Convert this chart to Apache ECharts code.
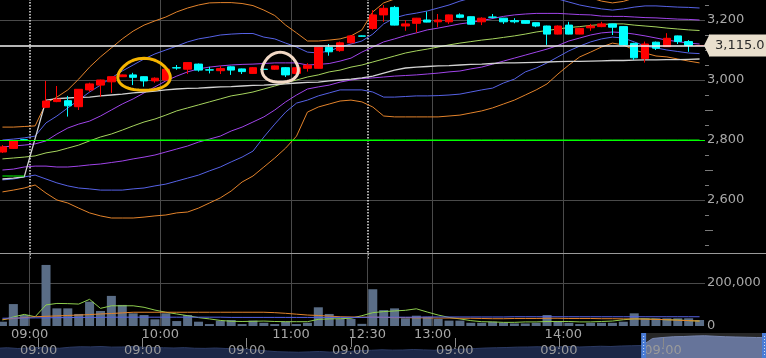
<!DOCTYPE html>
<html><head><meta charset="utf-8">
<script src="https://cdn.jsdelivr.net/npm/echarts@6/dist/echarts.min.js"></script>
<style>html,body{margin:0;padding:0;background:#000;}#c{width:766px;height:358px;}</style>
</head><body><div id="c"></div>
<script>
// ---------------- data ----------------
const times = ["prev 14:50","prev 14:55","prev 15:00",
 "09:00","09:05","09:10","09:15","09:20","09:25","09:30","09:35","09:40","09:45","09:50","09:55",
 "10:00","10:05","10:10","10:15","10:20","10:25","10:30","10:35","10:40","10:45","10:50","10:55",
 "11:00","11:05","11:10","11:15","11:20","11:25","11:30",
 "12:30","12:35","12:40","12:45","12:50","12:55",
 "13:00","13:05","13:10","13:15","13:20","13:25","13:30","13:35","13:40","13:45","13:50","13:55",
 "14:00","14:05","14:10","14:15","14:20","14:25","14:30","14:35","14:40","14:45","14:50","14:55","15:00"];
const hourMarks = ["10:00","11:00","13:00","14:00"];
const sessionStarts = ["09:00","12:30"];
const labelTimes = ["09:00","10:00","11:00","12:30","13:00","14:00"];

const opens  = [2760,2772,2800.5,null,2909,2928,2931,2911,2967,2983,2994,3011,3017,3011,2997,3000,3041,3036,3053,3034,3031,3044,3037,3022,3036,3036,3041,3022,3039,3039,3109,3098,3124,3147,3172,3217,3242,3180,3189,3200,3194,3194,3217,3211,3194,3210,3206,3198,3198,3191,3180,3153,3183,3153,3174,3178,3187,3178,3122,3072,3126,3111,3147,3128,3115];
const closes = [2777,2798,2800,null,2930,2936,2914,2969,2987,3000,3011,3017,3009,2997,3006,3036,3040,3058,3033,3033,3038,3033,3028,3041,3035,3047,3017,3041,3049,3109,3094,3124,3147,3146,3217,3239,3183,3187,3206,3193,3200,3217,3209,3186,3206,3209,3194,3194,3189,3180,3153,3180,3153,3172,3180,3187,3176,3117,3074,3120,3106,3139,3128,3115,3115];
const lows   = [2757,2770,2799,null,2907,2926,2878,2900,2961,2944,2957,3010,2983,2978,2991,2999,3034,3020,3028,3022,3020,3017,3020,3020,3033,3034,3010,3020,3028,3038,3081,3094,3122,3145,3167,3194,3182,3164,3158,3192,3176,3187,3206,3185,3183,3205,3187,3189,3188,3176,3117,3152,3152,3152,3164,3176,3150,3115,3067,3058,3100,3110,3120,3094,3115];
const highs  = [2783,2800,2802,null,2997,2980,2947,2970,2991,3001,3012,3018,3024,3012,3009,3047,3050,3059,3055,3044,3047,3046,3038,3043,3038,3048,3043,3043,3056,3110,3120,3128,3150,3148,3233,3250,3247,3200,3207,3228,3220,3218,3222,3212,3209,3220,3207,3206,3199,3192,3181,3182,3194,3174,3187,3194,3188,3180,3124,3128,3128,3156,3148,3133,3115];

const volumes = [20000,102000,51000,null,284000,82000,82000,56000,113000,70000,
 140000,98000,59000,51000,31000,59000,23000,51000,20000,9000,
 25000,28000,9000,25000,15000,9000,20000,9000,15000,87000,
 56000,33000,33000,10000,171000,74000,82000,36000,48000,43000,
 33000,25000,25000,15000,15000,20000,16000,12000,12000,15000,
 51000,20000,15000,9000,15000,15000,15000,20000,59000,36000,
 36000,36000,36000,36000,28000];

const bbUpper3 = [2843,2843,2845,2847,2923,2943,2967,3003,3043,3077,
 3107,3137,3163,3183,3197,3210,3227,3240,3250,3257,
 3258,3258,3255,3248,3233,3215,3183,3157,3130,3130,
 3133,3137,3147,3167,3227,3257,3270,3280,3287,3293,
 3305,3317,3333,3343,3353,3357,3360,3357,3353,3345,
 3333,3320,3303,3286,3274,3263,3257,3262,3273,3280,
 3282,3281,3280,3279,3278];
const bbUpper2 = [2800,2803,2807,2813,2857,2880,2907,2933,2960,2983,
 3007,3030,3050,3070,3087,3100,3113,3127,3137,3143,
 3150,3153,3155,3155,3143,3137,3123,3110,3093,3090,
 3097,3110,3120,3130,3153,3187,3207,3217,3223,3230,
 3240,3250,3263,3273,3280,3283,3287,3287,3287,3283,
 3277,3270,3260,3250,3243,3237,3233,3237,3243,3247,
 3247,3245,3243,3242,3240];
const bbUpper1 = [2777,2780,2783,2787,2797,2820,2840,2853,2863,2880,
 2900,2920,2937,2957,2977,2997,3013,3027,3037,3043,
 3047,3050,3052,3053,3055,3057,3057,3057,3050,3052,
 3055,3063,3073,3093,3110,3127,3137,3148,3157,3167,
 3173,3180,3187,3192,3198,3205,3212,3217,3220,3222,
 3222,3222,3220,3218,3217,3213,3212,3212,3210,3208,
 3207,3205,3203,3202,3200];
const bbMid = [2737,2740,2743,2747,2757,2763,2773,2783,2797,2810,
 2820,2833,2847,2860,2870,2883,2897,2907,2917,2927,
 2937,2947,2953,2960,2970,2980,2990,3000,3010,3017,
 3027,3033,3043,3050,3060,3070,3080,3090,3097,3103,
 3110,3117,3123,3128,3133,3137,3142,3147,3153,3160,
 3165,3170,3175,3178,3182,3185,3187,3187,3183,3180,
 3177,3173,3170,3167,3165];
const bbLower1 = [2700,2703,2710,2713,2713,2710,2710,2713,2717,2720,
 2725,2730,2737,2743,2750,2760,2770,2780,2793,2803,
 2813,2830,2843,2860,2877,2900,2927,2950,2970,2977,
 2983,2993,3000,3005,3007,3010,3013,3015,3017,3020,
 3023,3027,3030,3037,3043,3053,3063,3073,3083,3093,
 3103,3115,3130,3140,3150,3157,3160,3158,3153,3147,
 3140,3133,3128,3123,3120];
const bbLower2 = [2667,2670,2677,2683,2670,2657,2647,2640,2637,2633,
 2633,2633,2637,2640,2647,2653,2663,2673,2683,2697,
 2710,2727,2743,2763,2810,2853,2893,2923,2933,2947,
 2957,2967,2967,2967,2960,2943,2943,2945,2947,2947,
 2948,2950,2953,2960,2967,2973,2990,3003,3027,3040,
 3057,3077,3097,3113,3127,3137,3143,3140,3127,3113,
 3107,3100,3095,3090,3088];
const bbLower3 = [2627,2633,2640,2650,2623,2600,2590,2573,2557,2547,
 2540,2540,2540,2543,2547,2550,2557,2560,2573,2590,
 2607,2630,2660,2680,2710,2740,2773,2813,2893,2910,
 2920,2930,2933,2927,2910,2880,2877,2877,2877,2877,
 2877,2880,2883,2890,2897,2907,2920,2933,2950,2967,
 2987,3020,3050,3077,3093,3110,3123,3117,3100,3090,
 3080,3077,3070,3063,3057];
const vwap = [2670,2673,2677,null,2933,2938,2940,2942,2943,2947,
 2950,2953,2957,2960,2963,2967,2970,2972,2973,2975,
 2977,2978,2980,2982,2983,2985,2987,2990,2992,2993,
 2997,3000,3003,3007,3013,3023,3033,3040,3043,3045,
 3047,3048,3050,3052,3053,3055,3057,3057,3058,3059,
 3060,3061,3062,3062,3063,3064,3065,3065,3066,3067,
 3067,3068,3068,3069,3070];
const priorClose = {prev: 2680, today: 2800};
const refLine = 2800;
const lastPrice = 3115;

const volMaShort = [28000,42000,54000,43000,98000,105000,104000,102000,124000,82000,
 94000,94000,94000,87000,74000,64000,56000,48000,39000,33000,
 26000,22000,21000,22000,23000,21000,20000,20000,20000,31000,
 33000,34000,36000,48000,62000,67000,70000,73000,80000,65000,
 51000,40000,33000,25000,20000,19000,17000,17000,19000,19000,
 21000,21000,21000,19000,19000,21000,23000,29000,33000,33000,
 31000,29000,28000,25000,23000];
const volMaMid = [31000,35000,39000,43000,45000,47000,49000,51000,53000,56000,
 58000,61000,64000,64000,64000,64000,64000,64000,64000,64000,
 64000,64000,64000,64000,64000,62000,59000,55000,51000,49000,
 46000,43000,42000,41000,41000,40000,39000,39000,38000,38000,
 37000,37000,36000,36000,35000,34000,34000,35000,35000,35000,
 36000,36000,35000,35000,35000,34000,34000,33000,33000,32000,
 31000,29000,27000,25000,23000];
const volMaLong = [36000,37000,37000,38000,38000,39000,39000,40000,40000,40000,
 41000,41000,41000,41000,41000,41000,41000,41000,41000,41000,
 41000,40000,40000,40000,40000,40000,40000,40000,40000,40000,
 40000,40000,40000,40000,41000,41000,41000,41000,41000,42000,
 42000,42000,42000,42000,42000,42000,42000,43000,43000,43000,
 43000,43000,43000,43000,43000,43000,43000,43000,43000,43000,
 43000,43000,43000,43000,43000];

const slotTimes = ["09:00","09:30","10:00","10:30","11:00","12:30","13:00","13:30","14:00","14:30"];
const stripDays = ["D1","D2","D3","D4","D5","D6","D7"];
const stripValues = [2690,2710,2680,2700,2720,2705,2690,2730,2750,2745,
 2760,2735,2740,2755,2730,2720,2710,2700,2715,2690,
 2685,2700,2680,2670,2650,2620,2580,2550,2540,2530,
 2545,2560,2535,2550,2570,2600,2610,2630,2615,2620,
 2640,2625,2610,2630,2650,2660,2680,2700,2710,2720,
 2735,2740,2750,2730,2745,2760,2740,2755,2770,2760,
 2780,2790,2800,3080,3120,3150,3160,3180,3190,3170,
 3150,3140,3130,3120,3115];
const windowStart = 62;

// ---------------- build ----------------
const E = v => (v === null || v === undefined) ? '-' : v;
const candleData = times.map((t, i) => opens[i] === null ? ['-','-','-','-'] : [opens[i], closes[i], lows[i], highs[i]]);
const prevCloseLine = times.map((t, i) => opens[i] === null ? '-' : (t.startsWith('prev') ? priorClose.prev : priorClose.today));
const stripSlots = [];
slotTimes.slice(-4).forEach(t => stripSlots.push('D0 ' + t));
stripDays.forEach(d => slotTimes.forEach(t => stripSlots.push(d + ' ' + t)));
stripSlots.push('D7 15:00');
const stripBase = stripValues.map((v, i) => i <= windowStart ? v : '-');
const stripSel = stripValues.map((v, i) => i >= windowStart ? v : '-');

const FONT = 'DejaVu Sans';
const GL = -3, GR = 61;
const LABEL = '#a8a8a8';
const GRIDC = '#4a4a4a';
const fmt = v => Math.round(v).toLocaleString('en-US');

function line(name, data, color, extra) {
  return Object.assign({
    name, type: 'line', data: data.map(E), xAxisIndex: 0, yAxisIndex: 0,
    symbol: 'none', showSymbol: false, silent: true, z: 2,
    lineStyle: {color, width: 1}
  }, extra || {});
}
function vline(name, data, color) {
  return {name, type: 'line', data: data.map(E), xAxisIndex: 2, yAxisIndex: 2,
    symbol: 'none', showSymbol: false, silent: true, z: 3, lineStyle: {color, width: 1}};
}

const chart = echarts.init(document.getElementById('c'), null, {renderer: 'canvas', width: 766, height: 358});
const option = {
  backgroundColor: '#000',
  animation: false,
  textStyle: {fontFamily: FONT},
  grid: [
    {left: GL, right: GR, top: -40, bottom: 98, outerBoundsMode: 'none'},
    {left: GL, right: GR, top: 253, bottom: 32, outerBoundsMode: 'none'},
    {left: -3, right: -1, top: 333, bottom: 0, outerBoundsMode: 'none'}
  ],
  xAxis: [
    {type: 'category', gridIndex: 0, data: times, boundaryGap: true,
     axisLine: {show: false}, axisTick: {show: false}, axisLabel: {show: false},
     splitLine: {show: true, showMaxLine: false,
       interval: (i, v) => hourMarks.includes(v), lineStyle: {color: GRIDC, width: 1}}},
    {type: 'category', gridIndex: 0, data: times, boundaryGap: true, position: 'top',
     axisLine: {show: false}, axisTick: {show: false}, axisLabel: {show: false},
     splitLine: {show: true, showMaxLine: false,
       interval: (i, v) => sessionStarts.includes(v),
       lineStyle: {color: '#e6e6e6', width: 1.5, type: [1.5, 1.5]}}},
    {type: 'category', gridIndex: 1, data: times, boundaryGap: true,
     axisLine: {show: false}, axisTick: {show: false},
     axisLabel: {show: true, interval: (i, v) => labelTimes.includes(v), margin: 2,
       color: LABEL, fontSize: 13, fontFamily: FONT, padding: [0, 11, 0, 0]},
     splitLine: {show: true, showMaxLine: false,
       interval: (i, v) => labelTimes.includes(v), lineStyle: {color: GRIDC, width: 1}}},
    {type: 'category', gridIndex: 2, data: stripSlots, boundaryGap: false, position: 'top', offset: -5,
     z: 10,
     axisLine: {show: false},
     axisTick: {show: true, inside: true, length: 9, interval: (i, v) => v.endsWith('09:00'),
       lineStyle: {color: '#8a8a8a'}},
     axisLabel: {show: true, inside: true, margin: 6, interval: (i, v) => v.endsWith('09:00'),
       formatter: v => v.slice(-5), color: '#9a9a9a', fontSize: 13, fontFamily: FONT},
     splitLine: {show: false}}
  ],
  yAxis: [
    {type: 'value', gridIndex: 0, position: 'right', min: 2400, max: 3400, interval: 200,
     axisLine: {show: false}, axisTick: {show: false},
     minorTick: {show: true, splitNumber: 4, length: 4, lineStyle: {color: '#7a7a7a'}},
     minorSplitLine: {show: false},
     splitLine: {show: true, showMinLine: false, lineStyle: {color: GRIDC, width: 1}},
     axisLabel: {show: true, showMinLabel: false, margin: 2, color: LABEL, fontSize: 13,
       fontFamily: FONT, formatter: fmt}},
    {type: 'value', gridIndex: 0, position: 'right', min: 2400, max: 3400, interval: 200,
     axisLine: {show: false}, axisTick: {show: false}, axisLabel: {show: false},
     splitLine: {show: false},
     minorTick: {show: true, splitNumber: 2, length: 8, lineStyle: {color: '#7a7a7a'}}},
    {type: 'value', gridIndex: 1, position: 'right', min: 0, max: 339535, interval: 200000,
     axisLine: {show: false}, axisTick: {show: false},
     splitLine: {show: true, showMinLine: false, showMaxLine: false, lineStyle: {color: GRIDC, width: 1}},
     axisLabel: {show: true, showMaxLabel: false, margin: 2, color: LABEL, fontSize: 13,
       fontFamily: FONT, formatter: fmt}},
    {type: 'value', gridIndex: 2, min: 2300, max: 3300, show: false}
  ],
  series: [
    line('BB+3', bbUpper3, '#e3832b'),
    line('BB-3', bbLower3, '#e3832b'),
    line('BB+2', bbUpper2, '#5662e6'),
    line('BB-2', bbLower2, '#5662e6'),
    line('BB+1', bbUpper1, '#a044ea'),
    line('BB-1', bbLower1, '#a044ea'),
    line('MA', bbMid, '#a6d45e'),
    line('VWAP', vwap, '#d2d2d2', {connectNulls: true, lineStyle: {color: '#d2d2d2', width: 1.3}}),
    line('PrevClose', prevCloseLine, '#00ff00', {
      markLine: {silent: true, symbol: ['none', 'none'], data: [{yAxis: refLine}],
        lineStyle: {color: '#00ff00', width: 1, type: 'solid'}, label: {show: false}}}),
    {name: 'Price', type: 'candlestick', data: candleData, xAxisIndex: 0, yAxisIndex: 0,
     barWidth: 8, silent: true, z: 4,
     itemStyle: {color: '#ff0000', color0: '#00ffff', borderColor: '#ff0000', borderColor0: '#00ffff',
       borderColorDoji: '#ff0000', borderWidth: 1},
     markLine: {silent: true, symbol: ['none', 'none'], data: [{yAxis: lastPrice}],
       lineStyle: {color: '#f2f2f2', width: 1.5, type: 'solid'},
       label: {show: true, position: 'end', distance: 4,
         formatter: () => lastPrice.toLocaleString('en-US', {minimumFractionDigits: 1}),
         backgroundColor: '#e9dfcd', color: '#2a2a2a', fontSize: 13, fontFamily: FONT,
         lineHeight: 15, padding: [4, 6, 3, 6]}}},
    {name: 'Volume', type: 'bar', data: volumes.map(E), xAxisIndex: 2, yAxisIndex: 2,
     barWidth: 9, silent: true, z: 2, itemStyle: {color: '#5a6d86'}},
    vline('VolMA5', volMaShort, '#8fcf4f'),
    vline('VolMA25', volMaMid, '#e3832b'),
    vline('VolMA75', volMaLong, '#5662e6'),
    {name: 'Hist', type: 'line', data: stripBase, xAxisIndex: 3, yAxisIndex: 3,
     symbol: 'none', silent: true, z: 0, lineStyle: {color: '#2c3a62', width: 1},
     areaStyle: {color: '#1c2746', opacity: 1}},
    {name: 'HistSel', type: 'line', data: stripSel, xAxisIndex: 3, yAxisIndex: 3,
     symbol: 'none', silent: true, z: 0, lineStyle: {color: '#6f82b8', width: 1},
     areaStyle: {color: '#56689b', opacity: 1},
     markArea: {silent: true, itemStyle: {color: 'rgba(150,150,150,0.25)'},
       data: [[{xAxis: stripSlots[windowStart]}, {xAxis: stripSlots[stripSlots.length - 1]}]]}}
  ]
};
chart.setOption(option);

// ---------------- annotations (computed from axes) ----------------
const axisX = 766 - GR;
const tagY = chart.convertToPixel({yAxisIndex: 0}, lastPrice);
const winX = chart.convertToPixel({xAxisIndex: 3}, stripSlots[windowStart]);
function loopPoints(cx, cy, rx, ry, wob) {
  const pts = [];
  const n = 60;
  for (let k = 0; k <= n + 4; k++) {
    const a = -Math.PI * 0.8 + (k / n) * Math.PI * 2;
    const r = 1 + wob * Math.sin(a * 3);
    pts.push([cx + rx * r * Math.cos(a), cy + ry * r * Math.sin(a)]);
  }
  return pts;
}
const yc = chart.convertToPixel({gridIndex: 0}, [times[13], 3013]);
const pa = chart.convertToPixel({gridIndex: 0}, [times[25], 3040]);
const pb = chart.convertToPixel({gridIndex: 0}, [times[26], 3040]);
chart.setOption({
  graphic: [
    {type: 'line', silent: true, z: 100, shape: {x1: 0, y1: 253.5, x2: 766, y2: 253.5},
     style: {stroke: '#9a9a9a', lineWidth: 1}},
    {type: 'polygon', silent: true, z: 100,
     shape: {points: [[axisX - 1, tagY], [axisX + 4.5, tagY - 11], [axisX + 4.5, tagY + 11]]},
     style: {fill: '#e9dfcd'}},
    {type: 'polyline', silent: true, z: 100, shape: {points: loopPoints(yc[0], yc[1] - 1, 26, 16, 0.05)},
     style: {stroke: '#f5b400', lineWidth: 3, fill: null}},
    {type: 'polyline', silent: true, z: 100,
     shape: {points: loopPoints((pa[0] + pb[0]) / 2, pa[1], 18, 15, 0.05)},
     style: {stroke: '#f2d9c6', lineWidth: 3, fill: null}},
    {type: 'rect', silent: true, z: 100, shape: {x: winX - 1, y: 333, width: 5, height: 25},
     style: {fill: '#4a7cd6'}},
    {type: 'line', silent: true, z: 101, shape: {x1: winX + 1.5, y1: 336, x2: winX + 1.5, y2: 356},
     style: {stroke: 'rgba(255,255,255,0.75)', lineWidth: 1, lineDash: [1, 2]}},
    {type: 'rect', silent: true, z: 100, shape: {x: 762, y: 333, width: 5, height: 25},
     style: {fill: '#4a7cd6'}},
    {type: 'line', silent: true, z: 101, shape: {x1: 764.5, y1: 336, x2: 764.5, y2: 356},
     style: {stroke: 'rgba(255,255,255,0.75)', lineWidth: 1, lineDash: [1, 2]}}
  ]
});
</script>
</body></html>
